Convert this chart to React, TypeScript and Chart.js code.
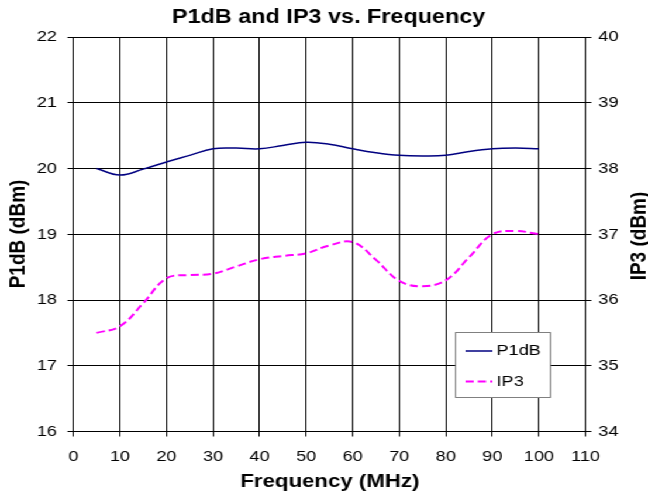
import { useEffect, useRef } from "react";
import { Chart, registerables } from "chart.js";

Chart.register(...registerables);

// ---- data ----
const frequencyMHz = [5, 10, 15, 20, 25, 30, 35, 40, 45, 50, 55, 60, 65, 70, 75, 80, 85, 90, 95, 100];
const p1dbValues = [20.0, 19.9, 19.99, 20.1, 20.2, 20.3, 20.31, 20.3, 20.35, 20.4, 20.37, 20.3, 20.24, 20.2, 20.19, 20.2, 20.26, 20.3, 20.31, 20.3];
const ip3Values = [35.5, 35.6, 35.95, 36.33, 36.38, 36.4, 36.51, 36.62, 36.67, 36.71, 36.83, 36.88, 36.61, 36.29, 36.21, 36.3, 36.65, 37.0, 37.05, 37.0];

const chartTitle = "P1dB and IP3 vs. Frequency";
const xAxisTitle = "Frequency (MHz)";
const leftAxisTitle = "P1dB (dBm)";
const rightAxisTitle = "IP3 (dBm)";
const seriesNames = ["P1dB", "IP3"];

// internal canvas is drawn narrower and stretched horizontally
const W = 554;
const H = 494;
const SX = 648 / W;

const FONT = "'Liberation Sans', Arial, sans-serif";

const overlay = {
  id: "overlay",
  afterDraw(chart: any) {
    const ctx = chart.ctx as CanvasRenderingContext2D;
    ctx.save();
    ctx.fillStyle = "#000";
    ctx.textAlign = "center";
    ctx.textBaseline = "middle";
    ctx.font = `bold 20px ${FONT}`;
    ctx.fillText(chartTitle, 281, 17);
    ctx.font = `bold 19px ${FONT}`;
    ctx.fillText(xAxisTitle, 282, 482);
    ctx.save();
    ctx.translate(15.5, 234);
    ctx.rotate(-Math.PI / 2);
    ctx.fillText(leftAxisTitle, 0, 0);
    ctx.restore();
    ctx.save();
    ctx.translate(547, 236);
    ctx.rotate(-Math.PI / 2);
    ctx.fillText(rightAxisTitle, 0, 0);
    ctx.restore();

    // legend box
    const bx = 389.5, by = 332.5, bw = 81, bh = 65;
    ctx.fillStyle = "#fff";
    ctx.fillRect(bx, by, bw, bh);
    ctx.strokeStyle = "#808080";
    ctx.lineWidth = 1;
    ctx.strokeRect(bx, by, bw, bh);

    ctx.strokeStyle = "#000080";
    ctx.lineWidth = 1.5;
    ctx.beginPath();
    ctx.moveTo(398, 351);
    ctx.lineTo(421, 351);
    ctx.stroke();

    ctx.strokeStyle = "#FF00FF";
    ctx.lineWidth = 2;
    ctx.setLineDash([7, 3.5]);
    ctx.beginPath();
    ctx.moveTo(398, 381.5);
    ctx.lineTo(421, 381.5);
    ctx.stroke();
    ctx.setLineDash([]);

    ctx.fillStyle = "#000";
    ctx.textAlign = "left";
    ctx.font = `15.5px ${FONT}`;
    ctx.fillText(seriesNames[0], 424.5, 351);
    ctx.fillText(seriesNames[1], 424.5, 382);
    ctx.restore();
  },
};

export default function App() {
  const ref = useRef<HTMLCanvasElement | null>(null);

  useEffect(() => {
    if (!ref.current) return;
    const tickFont = { family: FONT, size: 15.5 };
    const chart = new Chart(ref.current, {
      type: "line",
      data: {
        datasets: [
          {
            label: seriesNames[0],
            data: frequencyMHz.map((f, i) => ({ x: f, y: p1dbValues[i] })),
            borderColor: "#000080",
            backgroundColor: "#000080",
            borderWidth: 1.5,
            pointRadius: 0,
            tension: 0.4,
            yAxisID: "y",
          },
          {
            label: seriesNames[1],
            data: frequencyMHz.map((f, i) => ({ x: f, y: ip3Values[i] })),
            borderColor: "#FF00FF",
            backgroundColor: "#FF00FF",
            borderWidth: 2,
            borderDash: [7, 3.5],
            pointRadius: 0,
            tension: 0.4,
            yAxisID: "y1",
          },
        ],
      },
      options: {
        responsive: false,
        animation: false,
        events: [],
        layout: { padding: { top: 37, left: 0, right: 0, bottom: 0 } },
        plugins: {
          legend: { display: false },
          title: { display: false },
          tooltip: { enabled: false },
        },
        scales: {
          x: {
            type: "linear",
            min: 0,
            max: 110,
            ticks: { stepSize: 10, font: tickFont, color: "#000", padding: 11, maxRotation: 0, autoSkip: false },
            grid: { color: "#000", lineWidth: 1, tickLength: 5 },
            border: { color: "#000", width: 1 },
            afterFit: (s: any) => {
              s.height = 62.5;
            },
          },
          y: {
            position: "left",
            min: 16,
            max: 22,
            ticks: { stepSize: 1, font: tickFont, color: "#000", padding: 9 },
            grid: { color: "#000", lineWidth: 1, tickLength: 5 },
            border: { color: "#000", width: 1 },
            afterFit: (s: any) => {
              s.width = 62.7;
            },
          },
          y1: {
            position: "right",
            min: 34,
            max: 40,
            ticks: { stepSize: 1, font: tickFont, color: "#000", padding: 6 },
            grid: { color: "#000", lineWidth: 1, tickLength: 5, drawOnChartArea: false },
            border: { color: "#000", width: 1 },
            afterFit: (s: any) => {
              s.width = 53.4;
            },
          },
        },
      },
      plugins: [overlay],
    } as any);
    return () => chart.destroy();
  }, []);

  return (
    <div
      style={{
        position: "fixed",
        left: 0,
        top: 0,
        width: W,
        height: H,
        transform: `scaleX(${SX})`,
        transformOrigin: "0 0",
        background: "#fff",
      }}
    >
      <canvas ref={ref} width={W} height={H} style={{ width: W, height: H, display: "block" }} />
    </div>
  );
}
